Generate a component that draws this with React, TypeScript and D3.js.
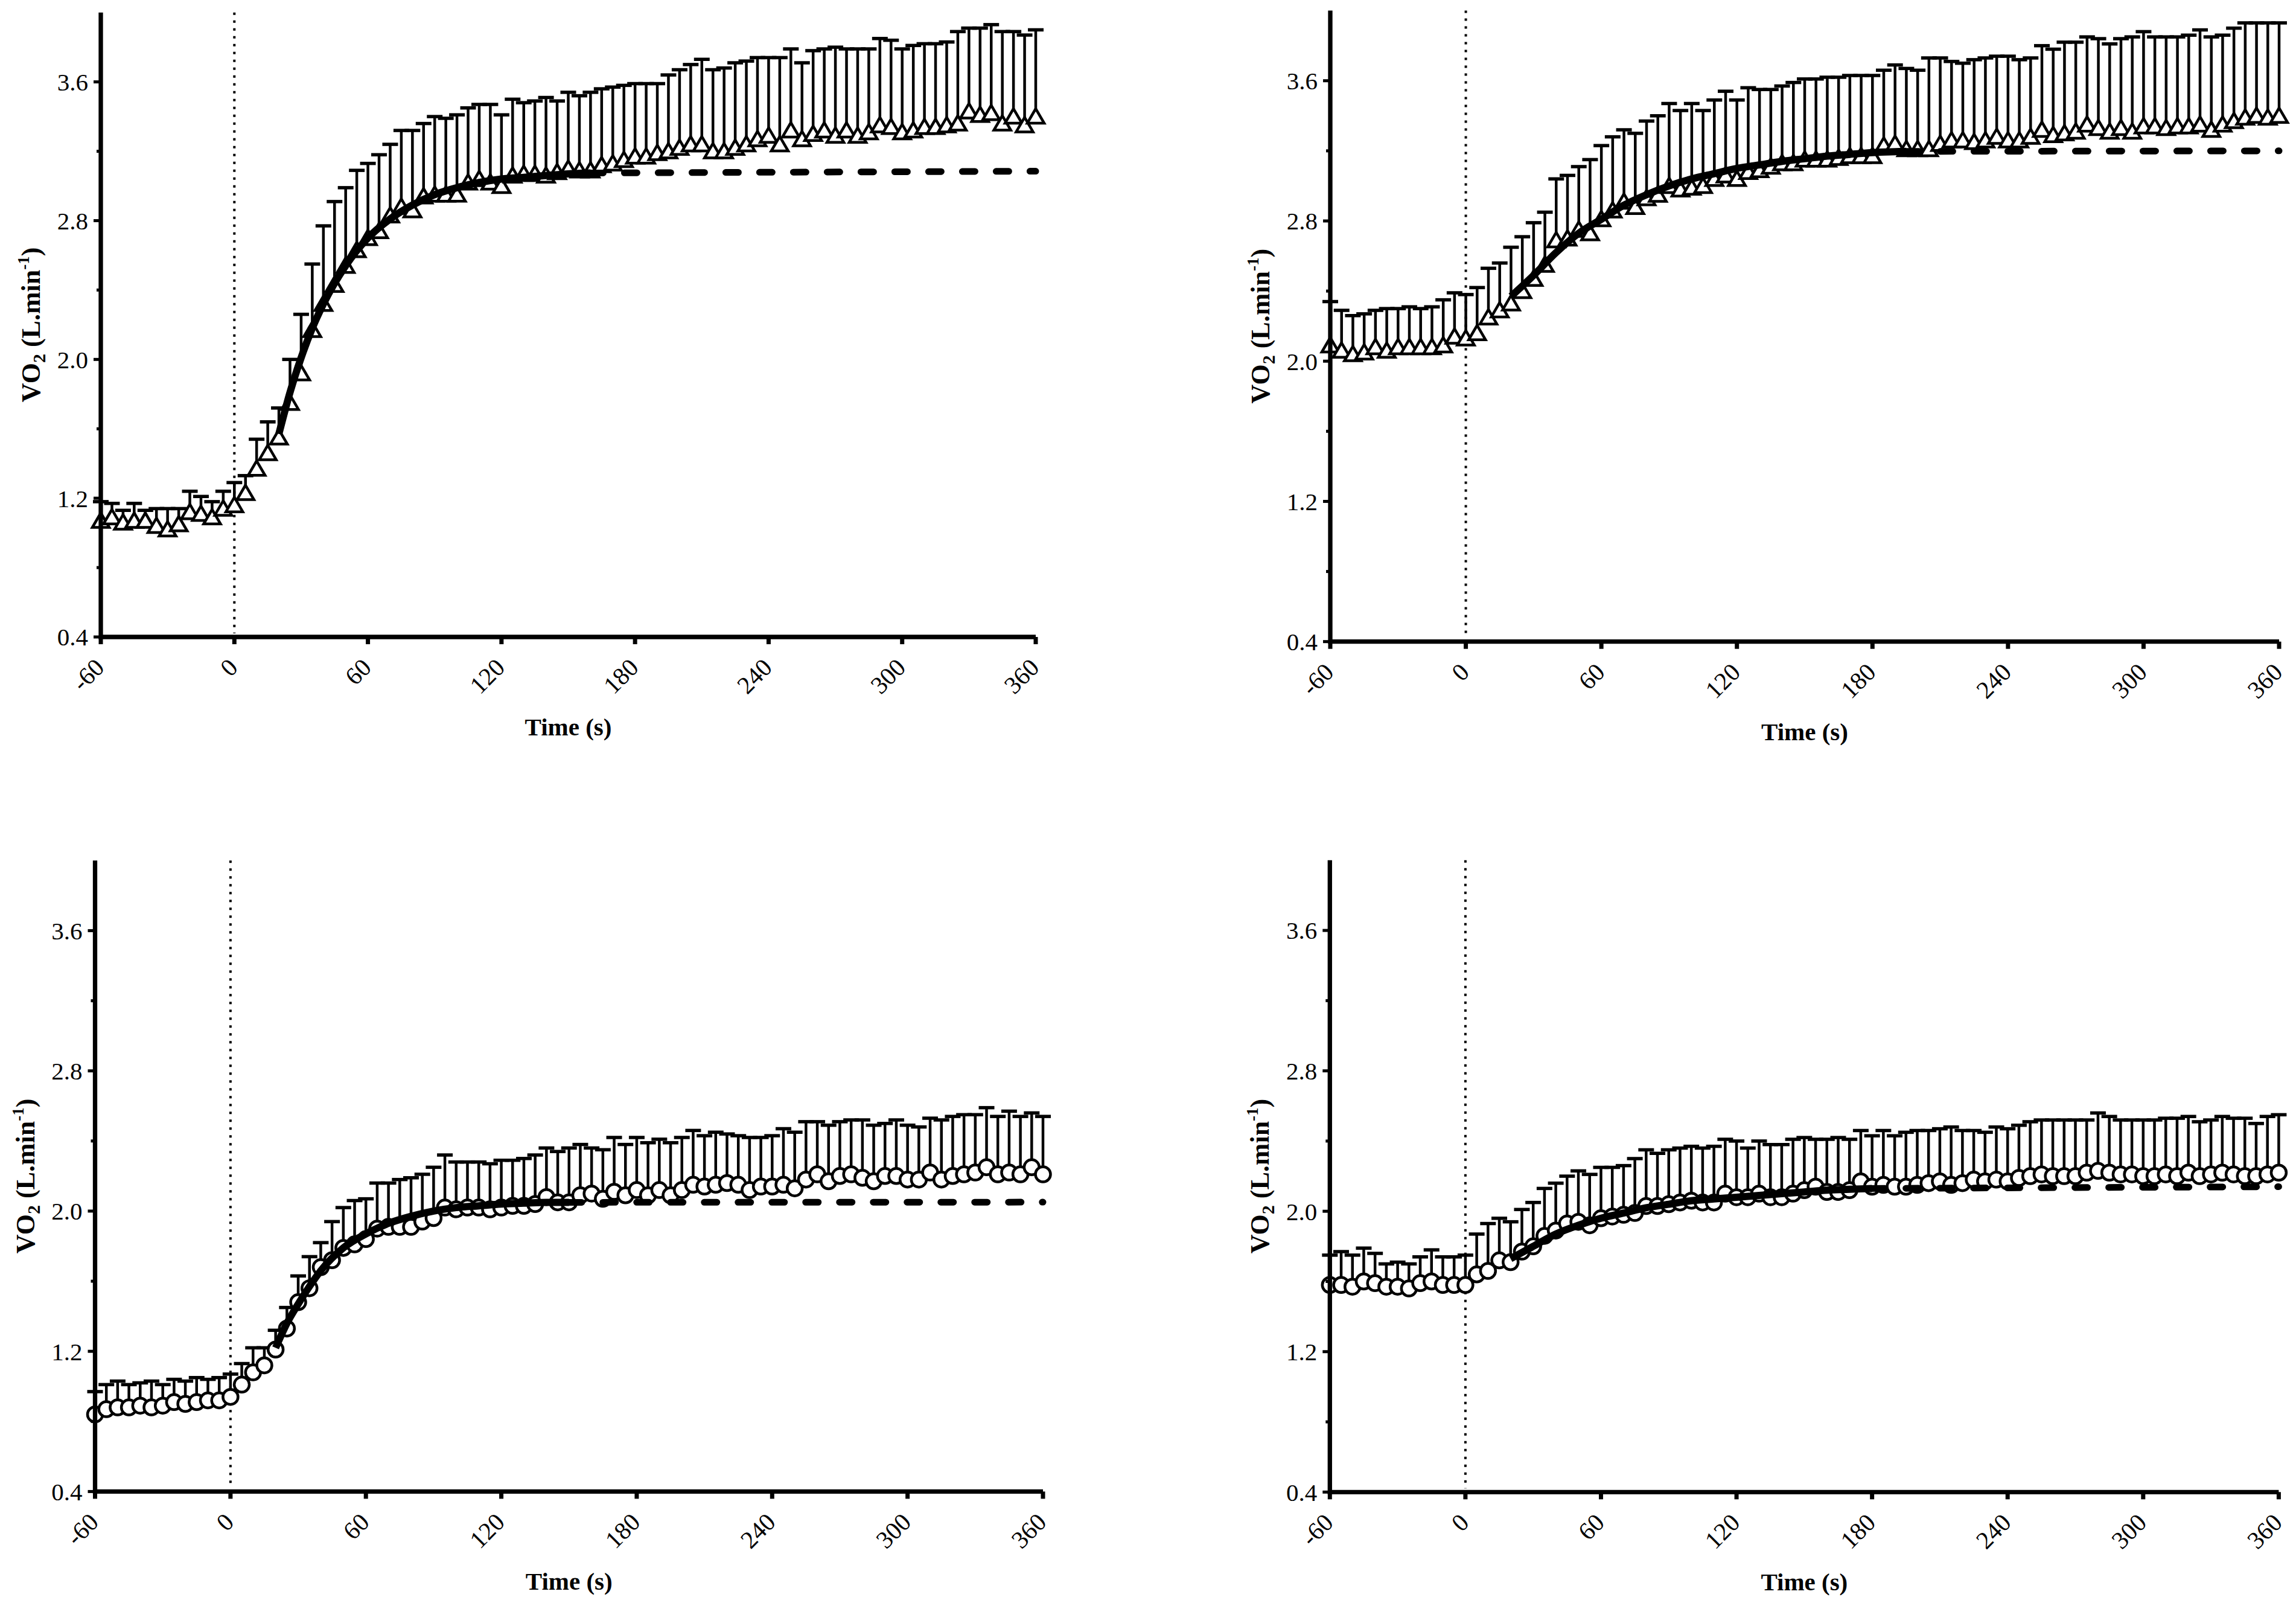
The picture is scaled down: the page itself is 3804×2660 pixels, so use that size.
import React from 'react';
import * as d3 from 'd3';

// sample times (s), one point every 5 s
const times = [
  -60, -55, -50, -45, -40, -35, -30, -25, -20, -15, -10, -5,
  0, 5, 10, 15, 20, 25, 30, 35, 40, 45, 50, 55,
  60, 65, 70, 75, 80, 85, 90, 95, 100, 105, 110, 115,
  120, 125, 130, 135, 140, 145, 150, 155, 160, 165, 170, 175,
  180, 185, 190, 195, 200, 205, 210, 215, 220, 225, 230, 235,
  240, 245, 250, 255, 260, 265, 270, 275, 280, 285, 290, 295,
  300, 305, 310, 315, 320, 325, 330, 335, 340, 345, 350, 355,
  360,
];

const xTicks = [-60, 0, 60, 120, 180, 240, 300, 360];
const yTicks = [0.4, 1.2, 2.0, 2.8, 3.6];
const yMinorTicks = [0.8, 1.6, 2.4, 3.2];

// top left (triangles)
const meanA = [
  1.07, 1.09, 1.06, 1.07, 1.07, 1.04, 1.02, 1.05, 1.12, 1.11, 1.09, 1.14,
  1.16, 1.23, 1.37, 1.46, 1.55, 1.75, 1.92, 2.17, 2.32, 2.43, 2.54, 2.63,
  2.70, 2.74, 2.83, 2.88, 2.86, 2.94, 2.95, 2.95, 2.95, 3.02, 3.04, 3.02,
  3.00, 3.06, 3.07, 3.07, 3.06, 3.08, 3.10, 3.09, 3.09, 3.12, 3.13, 3.15,
  3.17, 3.17, 3.19, 3.20, 3.22, 3.24, 3.24, 3.20, 3.20, 3.22, 3.24, 3.27,
  3.29, 3.24, 3.32, 3.27, 3.30, 3.32, 3.29, 3.32, 3.29, 3.31, 3.35, 3.34,
  3.31, 3.32, 3.34, 3.34, 3.35, 3.36, 3.43, 3.41, 3.42, 3.36, 3.40, 3.35,
  3.40,
];
const upperA = [
  1.18, 1.17, 1.13, 1.17, 1.13, 1.14, 1.14, 1.14, 1.24, 1.21, 1.18, 1.24,
  1.29, 1.33, 1.54, 1.64, 1.72, 2.00, 2.26, 2.55, 2.77, 2.91, 2.99, 3.09,
  3.13, 3.18, 3.24, 3.32, 3.32, 3.36, 3.40, 3.39, 3.41, 3.45, 3.47, 3.47,
  3.41, 3.50, 3.48, 3.49, 3.51, 3.49, 3.54, 3.52, 3.54, 3.56, 3.57, 3.58,
  3.59, 3.59, 3.59, 3.64, 3.67, 3.70, 3.73, 3.67, 3.68, 3.71, 3.72, 3.74,
  3.74, 3.74, 3.79, 3.71, 3.78, 3.79, 3.80, 3.79, 3.79, 3.79, 3.85, 3.84,
  3.79, 3.81, 3.82, 3.82, 3.83, 3.89, 3.91, 3.91, 3.93, 3.89, 3.89, 3.87,
  3.90,
];
const fitTimeA = [20, 25, 30, 35, 40, 50, 60, 70, 80, 90, 100, 110, 120, 130, 140, 150, 160];
const fitA = [1.57, 1.81, 2.01, 2.18, 2.32, 2.54, 2.70, 2.81, 2.89, 2.95, 2.99, 3.02, 3.04, 3.05, 3.06, 3.07, 3.075];
const plateauA = 3.085;

// top right (triangles)
const meanB = [
  2.09, 2.06, 2.04, 2.05, 2.08, 2.06, 2.08, 2.08, 2.08, 2.08, 2.09, 2.14,
  2.13, 2.16, 2.25, 2.29, 2.33, 2.40, 2.47, 2.55, 2.69, 2.70, 2.75, 2.73,
  2.81, 2.86, 2.91, 2.88, 2.93, 2.95, 3.00, 2.98, 2.99, 3.00, 3.04, 3.06,
  3.04, 3.08, 3.09, 3.11, 3.13, 3.13, 3.15, 3.15, 3.15, 3.16, 3.17, 3.17,
  3.17, 3.23, 3.24, 3.21, 3.21, 3.21, 3.24, 3.26, 3.26, 3.25, 3.26, 3.28,
  3.26, 3.26, 3.28, 3.32, 3.29, 3.30, 3.31, 3.35, 3.33, 3.31, 3.33, 3.31,
  3.34, 3.34, 3.33, 3.34, 3.34, 3.35, 3.32, 3.35, 3.37, 3.39, 3.40, 3.39,
  3.40,
];
const upperB = [
  2.34, 2.29, 2.26, 2.27, 2.29, 2.30, 2.30, 2.31, 2.30, 2.31, 2.35, 2.39,
  2.38, 2.42, 2.53, 2.56, 2.65, 2.71, 2.79, 2.85, 3.04, 3.06, 3.11, 3.15,
  3.23, 3.28, 3.32, 3.30, 3.37, 3.40, 3.47, 3.43, 3.47, 3.43, 3.49, 3.54,
  3.49, 3.56, 3.55, 3.55, 3.57, 3.59, 3.61, 3.61, 3.62, 3.62, 3.63, 3.63,
  3.63, 3.66, 3.69, 3.67, 3.66, 3.73, 3.73, 3.71, 3.70, 3.72, 3.73, 3.74,
  3.74, 3.72, 3.73, 3.80, 3.78, 3.82, 3.82, 3.85, 3.84, 3.81, 3.84, 3.85,
  3.88, 3.85, 3.85, 3.85, 3.86, 3.89, 3.85, 3.86, 3.90, 3.93, 3.93, 3.93,
  3.93,
];
const fitTimeB = [20, 30, 40, 50, 60, 70, 80, 90, 100, 110, 120, 130, 140, 150, 160, 170, 180, 190, 195];
const fitB = [2.37, 2.49, 2.62, 2.73, 2.81, 2.89, 2.95, 3.00, 3.04, 3.07, 3.10, 3.12, 3.14, 3.155, 3.17, 3.18, 3.19, 3.195, 3.197];
const plateauB = 3.2;

// bottom left (circles)
const meanC = [
  0.84, 0.87, 0.88, 0.88, 0.89, 0.88, 0.89, 0.91, 0.90, 0.91, 0.92, 0.92,
  0.94, 1.01, 1.08, 1.12, 1.21, 1.33, 1.48, 1.56, 1.68, 1.72, 1.79, 1.81,
  1.84, 1.90, 1.91, 1.91, 1.91, 1.94, 1.96, 2.02, 2.01, 2.02, 2.02, 2.01,
  2.02, 2.03, 2.03, 2.04, 2.08, 2.05, 2.05, 2.09, 2.10, 2.07, 2.11, 2.09,
  2.12, 2.09, 2.12, 2.09, 2.12, 2.15, 2.14, 2.15, 2.16, 2.15, 2.12, 2.14,
  2.14, 2.15, 2.13, 2.18, 2.21, 2.17, 2.20, 2.21, 2.19, 2.17, 2.20, 2.20,
  2.18, 2.18, 2.22, 2.18, 2.20, 2.21, 2.22, 2.25, 2.21, 2.22, 2.21, 2.25,
  2.21,
];
const upperC = [
  0.97, 1.01, 1.03, 1.01, 1.02, 1.03, 1.01, 1.04, 1.03, 1.05, 1.04, 1.05,
  1.07, 1.13, 1.22, 1.22, 1.32, 1.45, 1.63, 1.74, 1.82, 1.94, 2.02, 2.06,
  2.07, 2.16, 2.16, 2.18, 2.19, 2.21, 2.25, 2.32, 2.28, 2.28, 2.28, 2.27,
  2.29, 2.29, 2.30, 2.32, 2.36, 2.34, 2.36, 2.38, 2.36, 2.35, 2.42, 2.38,
  2.42, 2.39, 2.41, 2.39, 2.42, 2.46, 2.43, 2.45, 2.44, 2.43, 2.42, 2.42,
  2.43, 2.47, 2.45, 2.51, 2.51, 2.49, 2.51, 2.52, 2.52, 2.49, 2.50, 2.52,
  2.49, 2.48, 2.53, 2.52, 2.54, 2.55, 2.55, 2.59, 2.54, 2.57, 2.54, 2.56,
  2.54,
];
const fitTimeC = [20, 25, 30, 35, 40, 50, 60, 70, 80, 90, 100, 110, 120, 130, 140, 150];
const fitC = [1.22, 1.36, 1.47, 1.57, 1.66, 1.79, 1.87, 1.93, 1.97, 2.00, 2.02, 2.03, 2.04, 2.045, 2.05, 2.05];
const plateauC = 2.051;

// bottom right (circles)
const meanD = [
  1.58, 1.58, 1.57, 1.60, 1.59, 1.57, 1.57, 1.56, 1.59, 1.60, 1.58, 1.58,
  1.58, 1.64, 1.66, 1.72, 1.71, 1.77, 1.80, 1.86, 1.89, 1.93, 1.94, 1.92,
  1.96, 1.97, 1.98, 1.99, 2.03, 2.03, 2.04, 2.05, 2.06, 2.05, 2.05, 2.10,
  2.08, 2.08, 2.10, 2.08, 2.08, 2.10, 2.12, 2.14, 2.11, 2.11, 2.12, 2.17,
  2.14, 2.15, 2.14, 2.14, 2.15, 2.16, 2.17, 2.15, 2.16, 2.18, 2.17, 2.18,
  2.17, 2.19, 2.20, 2.21, 2.20, 2.20, 2.20, 2.22, 2.23, 2.22, 2.21, 2.21,
  2.20, 2.20, 2.21, 2.20, 2.22, 2.20, 2.21, 2.22, 2.21, 2.20, 2.20, 2.21,
  2.22,
];
const upperD = [
  1.75, 1.77, 1.75, 1.79, 1.76, 1.70, 1.71, 1.70, 1.74, 1.78, 1.74, 1.74,
  1.75, 1.87, 1.93, 1.96, 1.94, 2.01, 2.05, 2.13, 2.16, 2.20, 2.23, 2.21,
  2.25, 2.25, 2.26, 2.30, 2.35, 2.33, 2.35, 2.36, 2.37, 2.36, 2.37, 2.41,
  2.40, 2.36, 2.40, 2.38, 2.38, 2.41, 2.42, 2.41, 2.41, 2.42, 2.41, 2.46,
  2.43, 2.46, 2.43, 2.45, 2.46, 2.46, 2.47, 2.48, 2.46, 2.46, 2.45, 2.48,
  2.47, 2.49, 2.51, 2.52, 2.52, 2.52, 2.52, 2.52, 2.56, 2.54, 2.52, 2.52,
  2.52, 2.52, 2.53, 2.53, 2.54, 2.51, 2.52, 2.54, 2.53, 2.53, 2.50, 2.54,
  2.55,
];
const fitTimeD = [20, 30, 40, 50, 60, 70, 80, 90, 100, 110, 120, 130, 140, 150, 160, 170, 180];
const fitD = [1.73, 1.80, 1.87, 1.92, 1.96, 1.99, 2.02, 2.04, 2.06, 2.07, 2.08, 2.09, 2.10, 2.11, 2.12, 2.125, 2.13];
const plateauD = 2.14;

const FONT = "'Liberation Serif', 'Times New Roman', Times, serif";

const panels = [
  { id: 'a', left: 167, right: 1716, top: 20.7, bottom: 1055, mean: meanA, upper: upperA, fitT: fitTimeA, fitV: fitA, plateau: plateauA, marker: 'triangle' },
  { id: 'b', left: 2204, right: 3776, top: 17.6, bottom: 1062.7, mean: meanB, upper: upperB, fitT: fitTimeB, fitV: fitB, plateau: plateauB, marker: 'triangle' },
  { id: 'c', left: 157.5, right: 1728, top: 1425.3, bottom: 2470.4, mean: meanC, upper: upperC, fitT: fitTimeC, fitV: fitC, plateau: plateauC, marker: 'circle' },
  { id: 'd', left: 2203.3, right: 3775.4, top: 1424.8, bottom: 2471.3, mean: meanD, upper: upperD, fitT: fitTimeD, fitV: fitD, plateau: plateauD, marker: 'circle' },
];

function Panel({ p }: { p: any }) {
  const x = d3.scaleLinear().domain([-60, 360]).range([p.left, p.right]);
  const y = d3.scaleLinear().domain([0.4, 4.0]).range([p.bottom, p.top]);
  const x0 = x(-60);
  const y0 = y(0.4);

  const fitLine = d3.line<number>()
    .x((_, i) => x(p.fitT[i]))
    .y((v) => y(v))
    .curve(d3.curveMonotoneX);

  const lastT = p.fitT[p.fitT.length - 1];
  const lastV = p.fitV[p.fitV.length - 1];
  const dashLine = d3.line<[number, number]>()
    .x((d) => x(d[0]))
    .y((d) => y(d[1]));

  const triangle = 'M0,-13L14,11L-14,11Z';

  return (
    <g>
      {/* dotted line at exercise onset */}
      <line x1={x(0)} x2={x(0)} y1={y(4.0)} y2={y0 - 6}
        stroke="#000" strokeWidth={4} strokeDasharray="4 9" />

      {/* error bars (upper SD only) */}
      <g stroke="#000">
        {times.map((t, i) => (
          <g key={t}>
            <line x1={x(t)} x2={x(t)} y1={y(p.mean[i])} y2={y(p.upper[i])} strokeWidth={4.5} />
            <line x1={x(t) - 13} x2={x(t) + 13} y1={y(p.upper[i])} y2={y(p.upper[i])} strokeWidth={5.5} />
          </g>
        ))}
      </g>

      {/* markers */}
      <g fill="#fff" stroke="#000" strokeWidth={4.5}>
        {times.map((t, i) =>
          p.marker === 'triangle' ? (
            <path key={t} d={triangle} transform={`translate(${x(t)},${y(p.mean[i])})`} strokeLinejoin="miter" />
          ) : (
            <circle key={t} cx={x(t)} cy={y(p.mean[i])} r={12.5} />
          )
        )}
      </g>

      {/* mono-exponential fit and its extrapolation */}
      <path d={fitLine(p.fitV) || ''} fill="none" stroke="#000" strokeWidth={12} />
      <path d={dashLine([[lastT, lastV], [360, p.plateau]]) || ''} fill="none" stroke="#000"
        strokeWidth={11} strokeDasharray="21 35" strokeLinecap="round" />

      {/* axes */}
      <g stroke="#000">
        <path d={`M${x0},${y(4.0)}V${y0}H${x(360)}`} fill="none" strokeWidth={7.3} />
        {yTicks.map((v) => (
          <line key={'y' + v} x1={x0 - 12} x2={x0} y1={y(v)} y2={y(v)} strokeWidth={5} />
        ))}
        {yMinorTicks.map((v) => (
          <line key={'m' + v} x1={x0 - 7} x2={x0} y1={y(v)} y2={y(v)} strokeWidth={5} />
        ))}
        {xTicks.map((t) => (
          <line key={'x' + t} x1={x(t)} x2={x(t)} y1={y0} y2={y0 + 12} strokeWidth={7} />
        ))}
      </g>

      <g fontFamily={FONT} fontSize={41} fill="#000">
        {yTicks.map((v) => (
          <text key={'yl' + v} x={x0 - 21} y={y(v)} dy="0.35em" textAnchor="end">{v.toFixed(1)}</text>
        ))}
        {xTicks.map((t) => (
          <text key={'xl' + t} textAnchor="end"
            transform={`translate(${x(t) + 8},${y0 + 53}) rotate(-45)`}>{t}</text>
        ))}
        <text x={(x0 + x(360)) / 2} y={y0 + 163} textAnchor="middle" fontWeight="bold">Time (s)</text>
        <text textAnchor="middle" fontWeight="bold" fontSize={44}
          transform={`translate(${x0 - 101},${(y(4.0) + y0) / 2}) rotate(-90)`}>
          VO<tspan fontSize={30} dy={9}>2</tspan>
          <tspan dy={-9}>{' (L.min'}</tspan>
          <tspan fontSize={27} dy={-18}>-1</tspan>
          <tspan dy={18}>)</tspan>
        </text>
      </g>
    </g>
  );
}

export default function App() {
  return (
    <svg width={3804} height={2660} viewBox="0 0 3804 2660"
      style={{ position: 'absolute', left: 0, top: 0, background: '#fff' }}>
      <rect width={3804} height={2660} fill="#fff" />
      {panels.map((p) => <Panel key={p.id} p={p} />)}
    </svg>
  );
}
